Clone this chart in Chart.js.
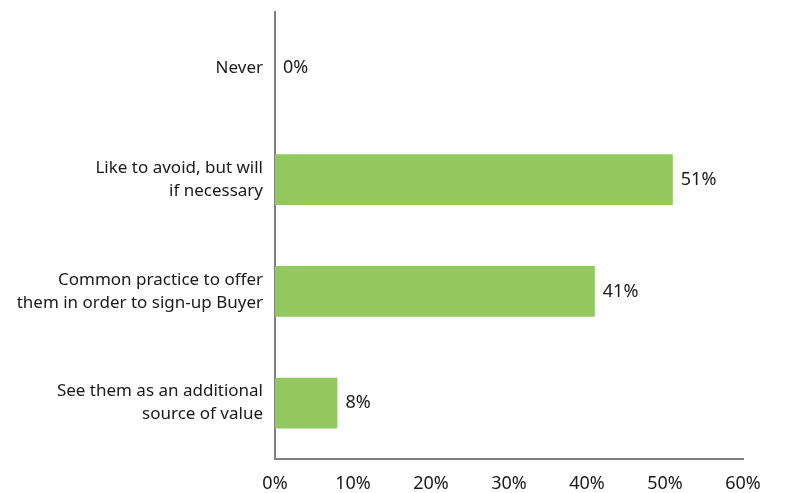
<!DOCTYPE html>
<html>
<head>
<meta charset="utf-8">
<script src="https://cdn.jsdelivr.net/npm/chart.js"></script>
<style>
  html, body { margin: 0; padding: 0; background: #fff; }
  #wrap { width: 795px; height: 493px; }
</style>
</head>
<body>
<div id="wrap"><canvas id="chart" width="795" height="493"></canvas></div>
<script>
const categories = [
  ["Never"],
  ["Like to avoid, but will", "if necessary"],
  ["Common practice to offer", "them in order to sign-up Buyer"],
  ["See them as an additional", "source of value"]
];
const shares = [0, 51, 41, 8];
const xMin = 0;
const xMax = 60;
const xStep = 10;

const textColor = "#1a1a1a";
const fontFamily = "'Noto Sans', 'Open Sans', sans-serif";

// writes the % value just after the end of each bar
const valueLabels = {
  id: "valueLabels",
  afterDatasetsDraw(chart) {
    const ctx = chart.ctx;
    const meta = chart.getDatasetMeta(0);
    ctx.save();
    ctx.font = "18px " + fontFamily;
    ctx.fillStyle = textColor;
    ctx.textAlign = "left";
    ctx.textBaseline = "middle";
    meta.data.forEach((bar, i) => {
      ctx.fillText(shares[i] + "%", bar.x + 8, bar.y);
    });
    ctx.restore();
  }
};

new Chart(document.getElementById("chart"), {
  type: "bar",
  data: {
    labels: categories,
    datasets: [{
      data: shares,
      backgroundColor: "#92C85F",
      borderWidth: 0,
      barPercentage: 0.455,
      categoryPercentage: 1
    }]
  },
  options: {
    indexAxis: "y",
    responsive: false,
    animation: false,
    layout: { padding: { top: 12, right: 52, left: 0, bottom: 0 } },
    plugins: { legend: { display: false }, tooltip: { enabled: false } },
    scales: {
      x: {
        min: xMin,
        max: xMax,
        grid: { display: false, drawTicks: false },
        border: { display: true, color: "#808080", width: 2 },
        ticks: {
          stepSize: xStep,
          padding: 14,
          color: textColor,
          font: { family: fontFamily, size: 18 },
          callback: v => v + "%"
        },
        afterFit(scale) {
          scale.height = 34;
          scale.paddingLeft = 0;
          scale.paddingRight = 0;
        }
      },
      y: {
        grid: { display: false, drawTicks: false },
        border: { display: true, color: "#808080", width: 2 },
        ticks: {
          padding: 12,
          color: textColor,
          font: { family: fontFamily, size: 17, lineHeight: 1.35 }
        },
        afterFit(scale) {
          scale.width = 275;
          scale.paddingTop = 0;
          scale.paddingBottom = 0;
        }
      }
    }
  },
  plugins: [valueLabels]
});
</script>
</body>
</html>
